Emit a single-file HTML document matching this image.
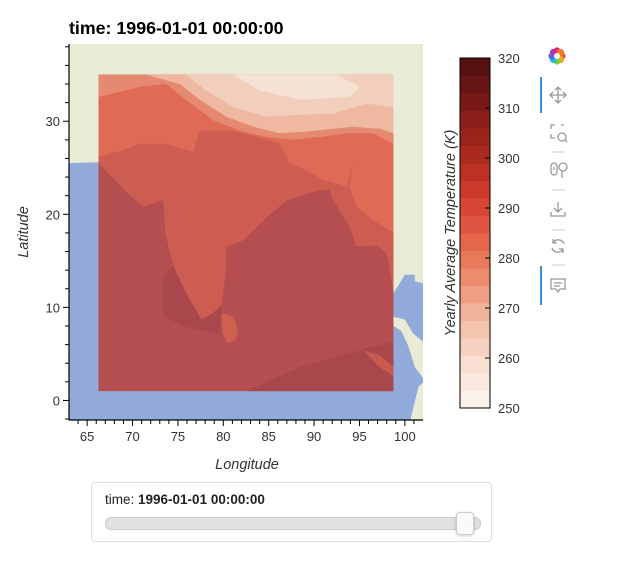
<!DOCTYPE html>
<html><head><meta charset="utf-8">
<style>
body{margin:0;background:#fff;width:618px;height:564px;overflow:hidden;font-family:"Liberation Sans",sans-serif}
svg{position:absolute;left:0;top:0}
.sl{position:absolute;left:91px;top:482px;width:399px;height:58px;border:1px solid #ddd;border-radius:4px;background:#fff}
</style></head><body>
<svg id="chart" width="618" height="564"></svg>
<div class="sl">
  <div style="position:absolute;left:13px;top:9px;font-size:13.5px;color:#222">time: <b>1996-01-01 00:00:00</b></div>
  <div style="position:absolute;left:13px;top:34px;width:374px;height:11px;background:#e1e1e1;border:1px solid #ccc;border-radius:6px"></div>
  <div style="position:absolute;left:364px;top:29px;width:16px;height:21px;background:#fafafa;border:1px solid #ccc;border-radius:4px;box-shadow:0 1px 3px rgba(0,0,0,.2)"></div>
</div>
<script>
const NS="http://www.w3.org/2000/svg";
const svg=document.getElementById('chart');
// axes
const xDomain=[63.0,102.0], yDomain=[-2.1,38.3];
const xTicks=[65,70,75,80,85,90,95,100];
const yTicks=[0,10,20,30];
const cbTicks=[250,260,270,280,290,300,310,320];
const cbLevels=[250,253.5,257,260.5,264,267.5,271,274.5,278,281.5,285,288.5,292,295.5,299,302.5,306,309.5,313,316.5];
const cbColors=["#fcf0ea","#fae8df","#f8dfd2","#f6d2c2","#f4c4af","#f1b39b","#ee9f83","#ec8c6d","#e9795b","#e6664c","#e05541","#d84636","#cc3a2c","#bc3124","#ab2a20","#9a241c","#8a1e19","#781916","#661414","#561111"];
const dataRect=[66.25,98.75,1,35];
// contour regions [lon,lat] pairs
const regionNorth=[[66.25,35],[98.75,35],[98.75,11.5],[98,15.8],[96.9,16.7],[94.7,16.5],[93.9,18.7],[92.1,21.5],[91.7,22.6],[90.6,22.6],[87,21.5],[84.8,19.7],[82.2,17.2],[80.3,16.5],[80.3,13.7],[79.8,10.3],[78.9,9.4],[77.6,8.7],[75.9,11.5],[74.5,14.4],[73.6,18.0],[73.4,21.5],[72.8,21.4],[71.2,20.8],[69.3,22.4],[66.25,25.5]];
const regionOrange=[[66.25,35],[98.75,35],[98.75,18.0],[96.5,19.4],[94.7,20.8],[93.9,23.0],[94.3,25.8],[93.6,23.0],[91.0,23.7],[89.2,24.7],[87.3,25.5],[86.2,27.6],[81.1,29.0],[77.4,29.0],[76.7,26.7],[73.7,27.6],[70.8,27.6],[69,26.9],[66.25,26.2]];
const regionBand1=[[66.25,35],[98.75,35],[98.75,27.6],[96.5,28.7],[93.6,28.7],[90.6,28.3],[87.7,28.0],[84.8,28.3],[81.8,29.0],[78.9,30.1],[75.9,32.3],[73.7,34.0],[70.8,33.7],[66.25,32.6]];
const regionBand2=[[71.5,35],[98.75,35],[98.75,28.7],[97.2,29.2],[94.3,29.4],[92.1,29.2],[89.2,28.9],[86.2,28.7],[83.3,29.4],[80.3,30.5],[77.4,32.3],[75.2,34.0]];
const regionBand3=[[75.9,35],[98.75,35],[98.75,31.5],[95.8,31.9],[92.1,30.8],[88.4,30.7],[84.8,30.5],[81.1,31.5],[78.1,33.3]];
const regionBand4=[[81.1,35],[84.0,33.3],[88.4,32.3],[93.9,32.6],[95.0,33.7],[92.5,35]];
const regionDeep1=[[73.4,13.3],[73.4,9.0],[75.9,7.9],[79.6,7.2],[79.8,10.3],[78.9,9.4],[77.6,8.7],[75.9,11.5],[74.5,14.4]];
const regionDeep2=[[82.5,1],[88.4,3.6],[95.0,5.4],[98.75,6.3],[98.75,1]];
const regionSriLanka=[[79.8,9.4],[81.1,9.0],[81.6,7.6],[81.4,6.5],[80.5,6.2],[79.9,7.2]];
const regionSEcoast=[[95.4,5.4],[97.2,4.9],[98.75,3.6],[98.75,2.6],[97.2,3.6]];
const oceanLeft=[[63.0,-2.1],[63.0,25.5],[66.25,25.6],[66.25,-2.1]];
const oceanBottom=[[63.0,-2.1],[100.6,-2.1],[99.6,1.5],[63.0,1.5]];
const oceanRight1=[[98.75,11.5],[100,13.5],[101.1,13.5],[101.1,12.8],[102,12.6],[102,6.3],[100.9,7.2],[100,8.7],[98.75,9.0]];
const oceanRight2=[[98.75,8.0],[99.6,7.5],[100.4,5.8],[101.1,3.6],[102,2.4],[102,1.9],[101.5,1.5],[100.6,-2.1],[98.75,-2.1]];
const cmin=250,cmax=320;

const PL=69,PR=423,PT=44,PB=420;
const X=v=>PL+(v-xDomain[0])/(xDomain[1]-xDomain[0])*(PR-PL);
const Y=v=>PB-(v-yDomain[0])/(yDomain[1]-yDomain[0])*(PB-PT);
const CB_T=58,CB_B=408,CB_L=460,CB_R=490;
const CY=v=>CB_B-(v-cmin)/(cmax-cmin)*(CB_B-CB_T);
function mk(t,a,p){const e=document.createElementNS(NS,t);for(const k in a)e.setAttribute(k,a[k]);(p||svg).appendChild(e);return e;}
const defs=mk('defs',{});const cp=mk('clipPath',{id:'pc'},defs);mk('rect',{x:PL,y:PT,width:PR-PL,height:PB-PT},cp);
const plot=mk('g',{'clip-path':'url(#pc)'});


const bg=mk('rect',{x:PL,y:PT,width:PR-PL,height:PB-PT,fill:'#e9ebd7'},plot);


function poly(pts,fill,name){const e=mk('polygon',{points:pts.map(p=>X(p[0]).toFixed(1)+','+Y(p[1]).toFixed(1)).join(' '),fill:fill},plot);

return e;}
poly(oceanLeft,'#92aad9','ocean-west');
poly(oceanBottom,'#92aad9','ocean-south');
poly(oceanRight1,'#92aad9','ocean-east-1');
poly(oceanRight2,'#92aad9','ocean-east-2');
const dr=mk('rect',{x:X(dataRect[0]),y:Y(dataRect[3]),width:X(dataRect[1])-X(dataRect[0]),height:Y(dataRect[2])-Y(dataRect[3]),fill:'#b54e50'},plot);


poly(regionNorth,'#cc5d50','contour-land');
poly(regionOrange,'#df6b57','contour-north-plains');
poly(regionBand1,'#e58a70','contour-band-1');
poly(regionBand2,'#eeb9a0','contour-band-2');
poly(regionBand3,'#f2cfbc','contour-band-3');
poly(regionBand4,'#f5e1d5','contour-band-4');
poly(regionDeep1,'#a8474c','contour-deep-south');
poly(regionDeep2,'#a8474c','contour-deep-southeast');
poly(regionSriLanka,'#cf604f','contour-sri-lanka');
poly(regionSEcoast,'#c85a4e','contour-se-coast');
// axes lines
let a=mk('line',{x1:PL,y1:PT,x2:PL,y2:PB,stroke:'#000','stroke-width':1.2});

a=mk('line',{x1:PL,y1:PB,x2:PR,y2:PB,stroke:'#000','stroke-width':1.2});

for(let v=64;v<=101;v++){const maj=v%5===0;mk('line',{x1:X(v),y1:PB,x2:X(v),y2:PB+(maj?6:4),stroke:'#000'});}
for(let v=-2;v<=38;v+=2){const maj=v%10===0;mk('line',{x1:PL,y1:Y(v),x2:PL-(maj?6:4),y2:Y(v),stroke:'#000'});}
xTicks.forEach(v=>{const t=mk('text',{x:X(v),y:PB+21,'text-anchor':'middle','font-size':13,fill:'#333'});t.textContent=v;
});
yTicks.forEach(v=>{const t=mk('text',{x:PL-9,y:Y(v)+5,'text-anchor':'end','font-size':13,fill:'#333'});t.textContent=v;
});
let t=mk('text',{x:247,y:469,'text-anchor':'middle','font-size':14.5,'font-style':'italic',fill:'#333'});t.textContent='Longitude';

t=mk('text',{x:0,y:0,transform:'translate(28,232) rotate(-90)','text-anchor':'middle','font-size':14.5,'font-style':'italic',fill:'#333'});t.textContent='Latitude';

t=mk('text',{x:69,y:34,'font-size':17.8,'font-weight':'bold',fill:'#000'});t.textContent='time: 1996-01-01 00:00:00';

// colorbar
cbLevels.forEach((lv,i)=>{const hi=i<cbLevels.length-1?cbLevels[i+1]:cmax;const r=mk('rect',{x:CB_L,y:CY(hi),width:CB_R-CB_L,height:CY(lv)-CY(hi)+0.5,fill:cbColors[i]});
});
a=mk('rect',{x:CB_L,y:CB_T,width:CB_R-CB_L,height:CB_B-CB_T,fill:'none',stroke:'#000','stroke-width':1});

cbTicks.forEach(v=>{if(v>cmin&&v<cmax)mk('line',{x1:CB_R-5,y1:CY(v),x2:CB_R,y2:CY(v),stroke:'#000'});
const tt=mk('text',{x:CB_R+8,y:CY(v)+5,'font-size':13,fill:'#333'});tt.textContent=v;
});
t=mk('text',{x:0,y:0,transform:'translate(455,233) rotate(-90)','text-anchor':'middle','font-size':14.5,'font-style':'italic',fill:'#333'});t.textContent='Yearly Average Temperature (K)';

// toolbar
const tb=mk('g',{});

const logoC=['#e94b3c','#f6a623','#7ed321','#2db4e8','#4a6fe3','#9b3fbf','#e2226f','#f07c22'];
logoC.forEach((c,i)=>{const ang=i*45*Math.PI/180;mk('circle',{cx:557+5*Math.cos(ang),cy:56+5*Math.sin(ang),r:3.6,fill:c},tb);});
mk('circle',{cx:557,cy:56,r:3,fill:'#fff'},tb);
mk('line',{x1:541,y1:77,x2:541,y2:113,stroke:'#3f8fd8','stroke-width':2},tb);
mk('line',{x1:541,y1:266,x2:541,y2:305,stroke:'#3f8fd8','stroke-width':2},tb);
[152,190,230,265].forEach(y=>mk('line',{x1:552,y1:y,x2:565,y2:y,stroke:'#ccc'},tb));
const ic='#999';
function ico(name,y,d){const g=mk('g',{transform:'translate(558,'+y+')',fill:'none',stroke:ic,'stroke-width':1.3},tb);

d.forEach(p=>mk('path',{d:p},g));}
ico('pan-tool',95,['M-8 0H8M0 -8V8M-5 -3L-8 0L-5 3M5 -3L8 0L5 3M-3 -5L0 -8L3 -5M-3 5L0 8L3 5']);
ico('box-zoom-tool',132,['M-7 -3V-7H-3M3 -7H6M-7 2V6H-3','M4 5m-4 0a4 4 0 1 0 8 0a4 4 0 1 0 -8 0','M7 8L9 10']);
ico('wheel-zoom-tool',170,['M-7 -4a3 3 0 0 1 6 0v6a3 3 0 0 1 -6 0z','M-4 -3v3','M5 -3m-4 0a4 4 0 1 0 8 0a4 4 0 1 0 -8 0','M4 1V8']);
ico('save-tool',209,['M0 -7V3M-4 -1L0 3L4 -1','M-7 3V7H7V3']);
ico('reset-tool',246,['M6 -2A6 6 0 0 0 -5 -3M-5 -7V-3H-1','M-6 2A6 6 0 0 0 5 3M5 7V3H1']);
ico('hover-tool',285,['M-7 -6H7V4H2L0 7L-2 4H-7Z','M-4 -2H4M-4 1H2']);
</script>
</body></html>
